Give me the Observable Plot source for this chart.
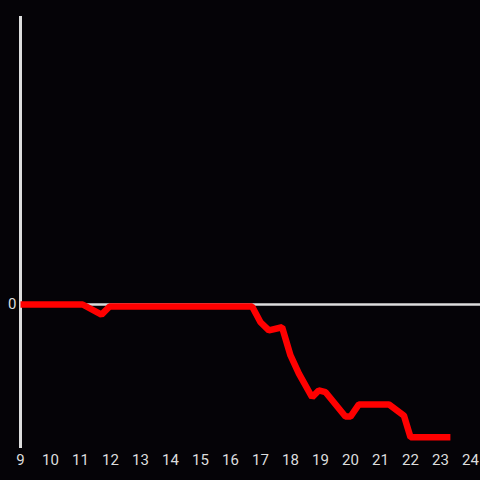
<!DOCTYPE html>
<html>
<head>
<meta charset="utf-8">
<script src="https://cdn.jsdelivr.net/npm/d3@7"></script>
<script src="https://cdn.jsdelivr.net/npm/@observablehq/plot@0.6"></script>
<style>
  html, body { margin: 0; padding: 0; background: #050307; }
  #chart { width: 480px; height: 480px; }
</style>
</head>
<body>
<div id="chart"></div>
<script>
// Hours of the day (x) and cumulative value (y)
const hours = [9.0, 11.07, 11.7, 11.97, 16.72, 17.0, 17.28, 17.72, 18.0, 18.28, 18.72, 18.94, 19.17, 19.83, 20.0, 20.28, 21.28, 21.78, 22.0, 23.33];
const values = [0, 0, -7, -1.4, -1.4, -12.3, -18, -15.8, -35.4, -48, -64.4, -59.7, -60.9, -77.8, -77.8, -69.4, -69.4, -77.1, -92.2, -92.2];
const xTicks = [9, 10, 11, 12, 13, 14, 15, 16, 17, 18, 19, 20, 21, 22, 23, 24];
const yTicks = [0];

const data = hours.map((h, i) => ({hour: h, value: values[i]}));

const chart = Plot.plot({
  width: 480,
  height: 480,
  marginTop: 16,
  marginBottom: 32,
  marginLeft: 20,
  marginRight: 0,
  style: {background: "#050307", color: "#dddddd", fontFamily: "Roboto, sans-serif", fontSize: "15px"},
  x: {domain: [9, 24.333], ticks: xTicks, tickSize: 0, tickPadding: 6, label: null, tickFormat: d => String(d)},
  y: {domain: [-100, 200], ticks: yTicks, tickSize: 0, tickPadding: 4, label: null, tickFormat: d => String(d)},
  marks: [
    Plot.ruleY([0], {stroke: "#dddddd", strokeWidth: 2.5}),
    Plot.ruleX([9], {stroke: "#dddddd", strokeWidth: 3}),
    Plot.line(data, {x: "hour", y: "value", stroke: "#ff0000", strokeWidth: 6.5, strokeLinejoin: "miter", strokeLinecap: "butt"})
  ]
});
document.getElementById("chart").appendChild(chart);
</script>
</body>
</html>
